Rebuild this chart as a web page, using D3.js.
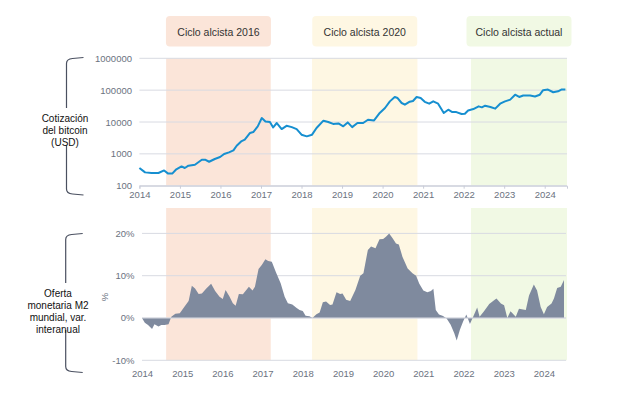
<!DOCTYPE html>
<html>
<head>
<meta charset="utf-8">
<script src="https://cdn.jsdelivr.net/npm/d3@7"></script>
<style>
  body { margin: 0; background: #fff; }
  svg { display: block; font-family: "Liberation Sans", Arial, sans-serif; }
</style>
</head>
<body>
<div id="chart"></div>
<script>
// bitcoin price (USD), log scale
const btcDates = [2014.00, 2014.14, 2014.30, 2014.47, 2014.61, 2014.71, 2014.81, 2014.90, 2015.04, 2015.12,
  2015.21, 2015.37, 2015.54, 2015.62, 2015.72, 2015.86, 2015.99, 2016.09, 2016.21, 2016.32,
  2016.40, 2016.51, 2016.60, 2016.73, 2016.81, 2016.92, 2017.02, 2017.11, 2017.22, 2017.30,
  2017.39, 2017.51, 2017.63, 2017.76, 2017.88, 2018.00, 2018.13, 2018.26, 2018.37, 2018.54,
  2018.66, 2018.78, 2018.91, 2019.03, 2019.14, 2019.25, 2019.38, 2019.52, 2019.64, 2019.79,
  2019.93, 2020.06, 2020.18, 2020.30, 2020.37, 2020.47, 2020.55, 2020.67, 2020.75, 2020.84,
  2020.94, 2021.04, 2021.15, 2021.25, 2021.37, 2021.51, 2021.62, 2021.72, 2021.82, 2021.95,
  2022.03, 2022.11, 2022.24, 2022.37, 2022.45, 2022.53, 2022.66, 2022.78, 2022.90, 2023.02,
  2023.15, 2023.27, 2023.37, 2023.47, 2023.64, 2023.76, 2023.88, 2023.96, 2024.08, 2024.21,
  2024.33, 2024.41, 2024.51];
const btcPrice = [360, 262, 250, 250, 302, 240, 240, 318, 403, 360,
  424, 455, 655, 655, 565, 690, 795, 990, 1110, 1280,
  1800, 2450, 2780, 4520, 4850, 7280, 13300, 10400, 10000, 6770,
  9300, 6000, 7600, 6900, 6000, 4000, 3540, 4000, 6500, 11000,
  10000, 8700, 9000, 7300, 9700, 6900, 9300, 9300, 11800, 11200,
  19200, 27500, 44400, 61000, 56600, 39500, 35000, 43500, 45800, 61000,
  56600, 43000, 37600, 44400, 37600, 19200, 24300, 20500, 20500, 17800,
  18200, 23000, 25500, 31000, 28800, 32500, 29600, 26200, 37600, 44400,
  50300, 72000, 61000, 68000, 68000, 63300, 72000, 100000, 104000, 86000,
  92000, 104000, 104000];

// global M2, year-on-year change (%)
const m2Dates = [2014.00, 2014.07, 2014.15, 2014.25, 2014.31, 2014.41, 2014.48, 2014.56, 2014.66, 2014.73,
  2014.83, 2014.94, 2015.06, 2015.16, 2015.24, 2015.32, 2015.41, 2015.49, 2015.60, 2015.72,
  2015.82, 2015.93, 2016.01, 2016.08, 2016.18, 2016.26, 2016.33, 2016.41, 2016.51, 2016.66,
  2016.75, 2016.81, 2016.90, 2016.98, 2017.07, 2017.14, 2017.23, 2017.33, 2017.45, 2017.55,
  2017.63, 2017.74, 2017.84, 2017.92, 2018.00, 2018.07, 2018.17, 2018.24, 2018.34, 2018.42,
  2018.50, 2018.58, 2018.68, 2018.74, 2018.84, 2018.93, 2018.99, 2019.08, 2019.18, 2019.31,
  2019.43, 2019.51, 2019.62, 2019.70, 2019.81, 2019.91, 2020.00, 2020.07, 2020.15, 2020.24,
  2020.32, 2020.39, 2020.48, 2020.61, 2020.73, 2020.82, 2020.90, 2021.00, 2021.10, 2021.19,
  2021.25, 2021.31, 2021.39, 2021.49, 2021.58, 2021.68, 2021.77, 2021.83, 2021.91, 2021.99,
  2022.07, 2022.16, 2022.24, 2022.34, 2022.40, 2022.51, 2022.64, 2022.76, 2022.82, 2022.93,
  2023.01, 2023.09, 2023.17, 2023.30, 2023.38, 2023.55, 2023.63, 2023.75, 2023.83, 2023.92,
  2024.00, 2024.08, 2024.19, 2024.25, 2024.33, 2024.42, 2024.50];
const m2Change = [0, -1.1, -1.65, -2.6, -1.5, -2.0, -1.65, -1.65, -1.5, 0.3,
  1.0, 1.1, 2.7, 4.0, 7.6, 7.0, 5.7, 5.8, 7.0, 8.1,
  6.4, 5.0, 4.5, 6.6, 5.0, 3.5, 2.9, 5.7, 5.6, 7.4,
  6.5, 7.4, 11.6, 12.5, 13.9, 13.5, 13.3, 10.9, 8.2, 5.0,
  3.5, 3.2, 2.4, 1.9, 1.65, 0.55, 0.4, 0, 0.9, 1.3,
  3.7, 3.9, 3.1, 3.2, 6.1, 5.7, 5.8, 4.3, 4.0, 6.6,
  10.0, 10.6, 16.1, 16.9, 16.5, 18.6, 18.7, 19.2, 20.0, 18.8,
  17.6, 17.4, 14.5, 11.7, 10.6, 10.0, 8.1, 6.5, 6.1, 6.4,
  6.9, 1.9, 0.85, 0.5, -0.1, -1.6, -3.6, -5.3, -2.8, -0.85,
  0.85, -1.4, 0.3, 2.5, 0.3, 1.6, 3.3, 4.2, 4.6, 3.4,
  3.0, 0, 1.6, 0.3, 2.2, 1.9, 5.3, 7.9, 6.5, 2.6,
  0.9, 2.6, 3.4, 4.6, 7.1, 7.4, 9.0];

const cycleNames = ['Ciclo alcista 2016', 'Ciclo alcista 2020', 'Ciclo alcista actual'];
const cycleStart = [2014.66, 2018.26, 2022.18];
const cycleEnd = [2017.24, 2020.86, 2024.55];
const cycleColors = ['#fbe5d9', '#fef7e3', '#f1f9e4'];

const yearTicks = d3.range(2014, 2025);
const btcTicks = [100, 1000, 10000, 100000, 1000000];
const m2Ticks = [-10, 0, 10, 20];

const width = 623, height = 396;
const svg = d3.select('#chart').append('svg')
  .attr('width', width)
  .attr('height', height);

const xTop = d3.scaleLinear().domain([2014, 2024.55]).range([139.4, 567]);
const xBot = d3.scaleLinear().domain([2014, 2024.55]).range([142, 566]);
const yTop = d3.scaleLog().domain([100, 1000000]).range([185.7, 58.3]);
const yBot = d3.scaleLinear().domain([-10, 26]).range([360.3, 208]);

const gridColor = '#d8dae2';
const tickText = '#6b7280';
const tickSize = '9.5px';

// shaded cycles (same band in both panels)
const cycles = cycleNames.map((n, i) => ({ name: n, s: cycleStart[i], e: cycleEnd[i], c: cycleColors[i] }));
[[yTop.range()[1], yTop.range()[0]], [yBot.range()[1], yBot.range()[0]]].forEach(([t, b]) => {
  svg.append('g').selectAll('rect')
    .data(cycles)
    .enter().append('rect')
    .attr('x', d => xTop(d.s))
    .attr('width', d => xTop(d.e) - xTop(d.s))
    .attr('y', t)
    .attr('height', b - t)
    .attr('fill', d => d.c);
});

// cycle label boxes
const boxes = svg.append('g').selectAll('g')
  .data(cycles)
  .enter().append('g')
  .attr('transform', d => `translate(${(xTop(d.s) + xTop(d.e)) / 2},0)`);
boxes.append('rect')
  .attr('x', -52.5).attr('y', 16)
  .attr('width', 105).attr('height', 30.5)
  .attr('rx', 4)
  .attr('fill', d => d.c);
boxes.append('text')
  .attr('y', 35.5)
  .attr('text-anchor', 'middle')
  .style('font-size', '10.5px')
  .attr('fill', '#333')
  .text(d => d.name);

// top panel: gridlines + y axis labels
const gTop = svg.append('g');
gTop.selectAll('line.grid')
  .data(btcTicks)
  .enter().append('line')
  .attr('x1', xTop.range()[0]).attr('x2', xTop.range()[1])
  .attr('y1', d => yTop(d)).attr('y2', d => yTop(d))
  .attr('stroke', gridColor);
gTop.selectAll('text.ylab')
  .data(btcTicks)
  .enter().append('text')
  .attr('x', 132)
  .attr('y', d => yTop(d) + 3.5)
  .attr('text-anchor', 'end')
  .style('font-size', tickSize)
  .attr('fill', tickText)
  .text(d => d);

const axTop = svg.append('g')
  .attr('transform', `translate(0,${yTop.range()[0]})`)
  .call(d3.axisBottom(xTop).tickValues(yearTicks).tickFormat(d3.format('d')).tickSize(3).tickPadding(3));
axTop.select('.domain').attr('stroke', '#c9ccd8');
axTop.selectAll('.tick line').attr('stroke', '#c9ccd8');
axTop.selectAll('.tick text').attr('fill', tickText).style('font-size', tickSize).style('font-family', 'inherit');

// bitcoin line
svg.append('path')
  .datum(btcDates.map((d, i) => [d, btcPrice[i]]))
  .attr('fill', 'none')
  .attr('stroke', '#168fd0')
  .attr('stroke-width', 2)
  .attr('stroke-linejoin', 'round')
  .attr('d', d3.line().x(d => xTop(d[0])).y(d => yTop(d[1])));

// bottom panel: gridlines + y labels
const gBot = svg.append('g');
gBot.selectAll('line')
  .data(m2Ticks)
  .enter().append('line')
  .attr('x1', xBot.range()[0]).attr('x2', xBot.range()[1])
  .attr('y1', d => yBot(d)).attr('y2', d => yBot(d))
  .attr('stroke', gridColor);
gBot.selectAll('text')
  .data(m2Ticks)
  .enter().append('text')
  .attr('x', 134.5)
  .attr('y', d => yBot(d) + 3.5)
  .attr('text-anchor', 'end')
  .style('font-size', tickSize)
  .attr('fill', tickText)
  .text(d => d + '%');

// M2 area
svg.append('path')
  .datum(m2Dates.map((d, i) => [d, m2Change[i]]))
  .attr('fill', '#7f8a9e')
  .attr('d', d3.area().x(d => xBot(d[0])).y0(yBot(0)).y1(d => yBot(d[1])));

svg.append('line')
  .attr('x1', xBot.range()[0]).attr('x2', xBot.range()[1])
  .attr('y1', yBot(0)).attr('y2', yBot(0))
  .attr('stroke', gridColor);

const axBot = svg.append('g')
  .attr('transform', `translate(0,${yBot.range()[0]})`)
  .call(d3.axisBottom(xBot).tickValues(yearTicks).tickFormat(d3.format('d')).tickSize(0).tickPadding(10));
axBot.select('.domain').remove();
axBot.selectAll('.tick text').attr('fill', tickText).style('font-size', tickSize).style('font-family', 'inherit');

svg.append('text')
  .attr('transform', 'translate(108,297) rotate(-90)')
  .attr('text-anchor', 'middle')
  .style('font-size', tickSize)
  .attr('fill', tickText)
  .text('%');

// braces and panel titles
function brace(top, bottom, x, gapTop, gapBottom) {
  const r = 6;
  const g = svg.append('g').attr('fill', 'none').attr('stroke', '#4a5060').attr('stroke-width', 1.2);
  g.append('path').attr('d', `M${x + 17},${top} L${x + r},${top + 1} Q${x},${top + 1.5} ${x},${top + r} L${x},${gapTop}`);
  g.append('path').attr('d', `M${x},${gapBottom} L${x},${bottom - r} Q${x},${bottom - 1.5} ${x + r},${bottom - 1} L${x + 17},${bottom}`);
}
brace(57.5, 195, 66.5, 108, 146);
brace(233.5, 372.5, 65.7, 283, 330);

function label(lines, cx, y0, dy) {
  svg.append('text')
    .attr('text-anchor', 'middle')
    .style('font-size', '10px')
    .attr('fill', '#111')
    .selectAll('tspan')
    .data(lines)
    .enter().append('tspan')
    .attr('x', cx)
    .attr('y', (d, i) => y0 + i * dy)
    .text(d => d);
}
label(['Cotización', 'del bitcoin', '(USD)'], 65, 122, 12);
label(['Oferta', 'monetaria M2', 'mundial, var.', 'interanual'], 58, 296.5, 12);
</script>
</body>
</html>
